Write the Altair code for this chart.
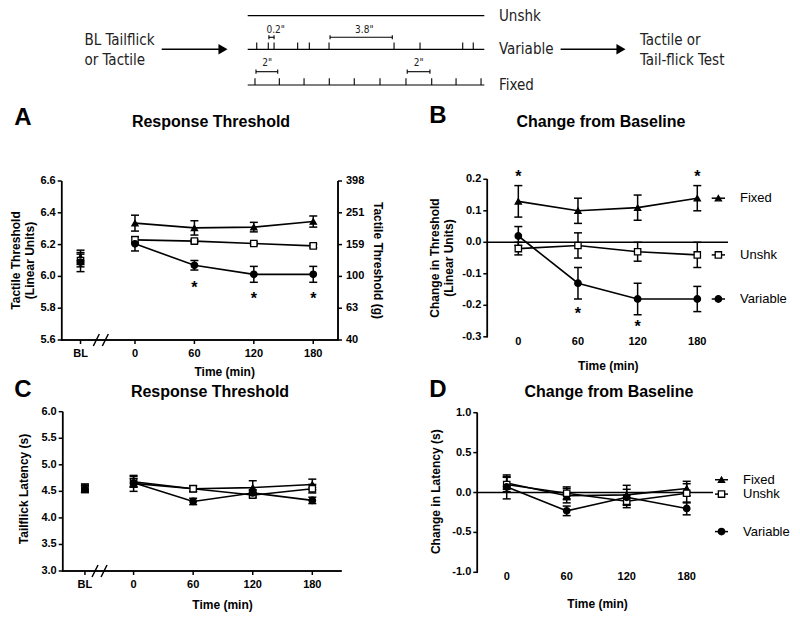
import altair as alt
import pandas as pd

# ---------------- data ----------------
SERIES = ["Fixed", "Unshk", "Variable"]
TIMES = [0, 60, 120, 180]

# Panel A : tactile threshold (linear units)
A_BL_X = -55
A_BL_MEAN = [6.12, 6.10, 6.09]
A_BL_ERR = [0.045, 0.04, 0.06]
A_FIXED = [6.335, 6.305, 6.31, 6.345]
A_FIXED_ERR = [0.05, 0.045, 0.03, 0.035]
A_UNSHK = [6.23, 6.222, 6.207, 6.192]
A_UNSHK_ERR = [0.02, 0.01, 0.01, 0.012]
A_VAR = [6.205, 6.07, 6.013, 6.013]
A_VAR_ERR = [0.045, 0.03, 0.05, 0.05]
A_STAR_T = [60, 120, 180]
A_STAR_Y = [5.95, 5.883, 5.883]
A_Y_TICKS = [5.6, 5.8, 6.0, 6.2, 6.4, 6.6]
A_RIGHT_LABELS = ["40", "63", "100", "159", "251", "398"]

# Panel B : change in threshold
B_FIXED = [0.13, 0.10, 0.11, 0.14]
B_FIXED_ERR = [0.05, 0.04, 0.04, 0.04]
B_UNSHK = [-0.02, -0.01, -0.03, -0.04]
B_UNSHK_ERR = [0.02, 0.04, 0.03, 0.04]
B_VAR = [0.02, -0.13, -0.18, -0.18]
B_VAR_ERR = [0.03, 0.05, 0.05, 0.04]
B_STAR_T = [0, 180, 60, 120]
B_STAR_Y = [0.22, 0.22, -0.215, -0.255]
B_LEGEND_Y = [0.14, -0.04, -0.18]
B_Y_TICKS = [-0.3, -0.2, -0.1, 0.0, 0.1, 0.2]

# Panel C : tailflick latency (s)
C_BL_X = -49
C_BL_MEAN = [4.56, 4.55, 4.54]
C_BL_ERR = [0.08, 0.07, 0.06]
C_FIXED = [4.65, 4.55, 4.57, 4.63]
C_FIXED_ERR = [0.15, 0.05, 0.13, 0.10]
C_UNSHK = [4.68, 4.55, 4.43, 4.55]
C_UNSHK_ERR = [0.10, 0.06, 0.05, 0.08]
C_VAR = [4.66, 4.31, 4.47, 4.33]
C_VAR_ERR = [0.08, 0.06, 0.06, 0.06]
C_Y_TICKS = [3.0, 3.5, 4.0, 4.5, 5.0, 5.5, 6.0]

# Panel D : change in latency (s)
D_FIXED = [0.12, -0.04, -0.03, 0.05]
D_FIXED_ERR = [0.08, 0.09, 0.12, 0.09]
D_UNSHK = [0.10, -0.01, -0.11, -0.01]
D_UNSHK_ERR = [0.09, 0.08, 0.08, 0.12]
D_VAR = [0.07, -0.23, -0.06, -0.20]
D_VAR_ERR = [0.15, 0.06, 0.10, 0.08]
D_LEGEND_Y = [0.16, -0.02, -0.49]
D_Y_TICKS = [-1.0, -0.5, 0.0, 0.5, 1.0]

# Schematic timeline (seconds along the session line)
DIAG_ROWS = ["Unshk", "Variable", "Fixed"]
DIAG_ROW_POS = [0.0, 0.97, 2.0]
DIAG_LINE_END = 18.85
VAR_TICKS = [0.72, 1.64, 2.10, 3.98, 4.91, 6.48, 11.66, 13.73, 17.13, 17.97]
FIX_TICKS = [0.58, 2.52, 4.49, 6.5, 8.49, 10.54, 12.61, 14.66, 16.6, 18.59]
BRACKET_ROW = [0.623, 0.623, 1.616, 1.616]
BRACKET_START = [1.69, 6.56, 0.66, 12.71]
BRACKET_END = [2.10, 11.52, 2.39, 14.52]
BRACKET_LABEL = ['0.2"', '3.8"', '2"', '2"']
BRACKET_LABEL_T = [2.23, 9.29, 1.56, 13.63]
BRACKET_LABEL_ROW = [0.413, 0.413, 1.365, 1.365]

# ---------------- layout ----------------
W, H = 784, 604
FONT = "Liberation Sans, Arial, sans-serif"
NARROW = "Liberation Sans Narrow, Arial Narrow, DejaVu Sans Condensed, sans-serif"

PAN = {
    "A": dict(xd=[-74, 205], xr=[53.7, 330.0], yd=[5.6, 6.6], yr=[332.0, 173.0]),
    "B": dict(xd=[-31.2, 212], xr=[479.3, 721.1], yd=[-0.3, 0.2], yr=[328.8, 171.3]),
    "C": dict(xd=[-71.4, 209.6], xr=[54.7, 333.7], yd=[3.0, 6.0], yr=[563.0, 403.7]),
    "D": dict(xd=[-29.4, 240], xr=[469.3, 738.7], yd=[-1.0, 1.0], yr=[564.3, 404.7]),
    "diag": dict(xd=[0, 18.85], xr=[239.7, 476.3], yd=[0, 2], yr=[7.7, 77.0]),
    "page": dict(xd=[0, 800], xr=[-8, 792], yd=[0, 620], yr=[-8, 612]),
}

# axis frame segments per panel: (x1, y1, x2, y2) in panel data units
FRAMES = {
    "A": [(-74, 5.6, -74, 6.6), (-74, 5.6, 205, 5.6), (205, 5.6, 205, 6.6)],
    "B": [(-31.2, -0.3, -31.2, 0.2)],
    "C": [(-71.4, 3.0, -71.4, 6.0), (-71.4, 3.0, 209.6, 3.0)],
    "D": [(-29.4, -1.0, -29.4, 1.0)],
}
FRAME_WIDTH_PX = 1.5


def xs(p):
    return alt.Scale(domain=PAN[p]["xd"], range=PAN[p]["xr"], nice=False, zero=False)


def ys(p):
    return alt.Scale(domain=PAN[p]["yd"], range=PAN[p]["yr"], nice=False, zero=False)


def X(p, f):
    return alt.X(f, type="quantitative", scale=xs(p), axis=None)


def Y(p, f):
    return alt.Y(f, type="quantitative", scale=ys(p), axis=None)


CAP = "M-1,0L1,0"
TICK_LEFT = "M-1,0L0,0"
TICK_RIGHT = "M0,0L1,0"
TICK_DOWN = "M0,0L0,1"
SLASH = "M-1.25,1L-0.25,-1M0.25,1L1.25,-1"
SHAPES = ["triangle-up", "square", "circle"]
FILLS = ["black", "white", "black"]
SIZES = [38, 42, 30]


def series_frame(bl_x, bl_mean, bl_err, means, errs):
    rows = []
    if bl_x is not None:
        for s, m, e in zip(SERIES, bl_mean, bl_err):
            rows.append(dict(series=s, t=bl_x, m=m, lo=m - e, hi=m + e, bl=1))
    for s, ms, es in zip(SERIES, means, errs):
        for t, m, e in zip(TIMES, ms, es):
            rows.append(dict(series=s, t=t, m=m, lo=m - e, hi=m + e, bl=0))
    return pd.DataFrame(rows)


def marker_enc():
    return dict(
        shape=alt.Shape("series:N", scale=alt.Scale(domain=SERIES, range=SHAPES), legend=None),
        fill=alt.Fill("series:N", scale=alt.Scale(domain=SERIES, range=FILLS), legend=None),
        size=alt.Size("series:N", scale=alt.Scale(domain=SERIES, range=SIZES), legend=None),
    )


def tick_marks(p, d, xf, yf, shape):
    return alt.Chart(d).mark_point(shape=shape, size=64, filled=False, color="black",
                                   strokeWidth=1.5, opacity=1).encode(
        x=X(p, xf), y=Y(p, yf))


def y_axis(p, values, labels=None, side="left"):
    xd = PAN[p]["xd"]
    at = xd[0] if side == "left" else xd[1]
    labs = labels if labels is not None else ["%.1f" % v for v in values]
    d = pd.DataFrame({"v": values, "lab": labs, "ax": [at] * len(values)})
    shape = TICK_LEFT if side == "left" else TICK_RIGHT
    return [
        tick_marks(p, d, "ax", "v", shape),
        alt.Chart(d).mark_text(font=FONT, fontSize=11, fontWeight="bold", color="black",
                               align="right" if side == "left" else "left",
                               baseline="middle", dx=-6 if side == "left" else 8).encode(
            x=X(p, "ax"), y=Y(p, "v"), text="lab:N"),
    ]


def x_axis(p, values, labels, ticks=True, dy=8):
    yd = PAN[p]["yd"]
    d = pd.DataFrame({"v": values, "lab": labels, "ay": [yd[0]] * len(values)})
    out = []
    if ticks:
        out.append(tick_marks(p, d, "v", "ay", TICK_DOWN))
    out.append(alt.Chart(d).mark_text(font=FONT, fontSize=11, fontWeight="bold",
                                      color="black", align="center", baseline="top",
                                      dy=dy).encode(
        x=X(p, "v"), y=Y(p, "ay"), text="lab:N"))
    return out


def frame_layers(p):
    # polyline version
    rows = []
    for i, (x1, y1, x2, y2) in enumerate(FRAMES[p]):
        rows.append(dict(seg=i, k=0, fx=x1, fy=y1))
        rows.append(dict(seg=i, k=1, fx=x2, fy=y2))
    d = pd.DataFrame(rows)
    out = [alt.Chart(d).mark_line(color="black", strokeWidth=1.5).encode(
        x=X(p, "fx"), y=Y(p, "fy"), detail="seg:N", order="k:Q")]
    # thin filled bars along the same segments
    P = PAN[p]
    hx = FRAME_WIDTH_PX / 2 / abs((P["xr"][1] - P["xr"][0]) / (P["xd"][1] - P["xd"][0]))
    hy = FRAME_WIDTH_PX / 2 / abs((P["yr"][1] - P["yr"][0]) / (P["yd"][1] - P["yd"][0]))
    bars = []
    for (x1, y1, x2, y2) in FRAMES[p]:
        if x1 == x2:
            bars.append(dict(bx1=x1 - hx, bx2=x1 + hx, by1=min(y1, y2) - hy, by2=max(y1, y2)))
        else:
            bars.append(dict(bx1=min(x1, x2) - hx, bx2=max(x1, x2), by1=y1 - hy, by2=y1 + hy))
    bd = pd.DataFrame(bars)
    out.append(alt.Chart(bd).mark_rect(color="black", opacity=1).encode(
        x=X(p, "bx1"), x2="bx2", y=Y(p, "by1"), y2="by2"))
    return out


def panel_layers(p, df):
    caps = pd.concat([
        pd.DataFrame({"t": df["t"], "v": df["lo"]}),
        pd.DataFrame({"t": df["t"], "v": df["hi"]}),
    ])
    return [
        alt.Chart(df[df["bl"] == 0]).mark_line(color="black", strokeWidth=1.6).encode(
            x=X(p, "t"), y=Y(p, "m"), detail="series:N"),
        alt.Chart(df).mark_rule(color="black", strokeWidth=1.5).encode(
            x=X(p, "t"), y=Y(p, "lo"), y2="hi"),
        alt.Chart(caps).mark_point(shape=CAP, size=64, filled=False, color="black",
                                   strokeWidth=1.5, opacity=1).encode(
            x=X(p, "t"), y=Y(p, "v")),
        alt.Chart(df).mark_point(filled=True, stroke="black", strokeWidth=1.3,
                                 opacity=1).encode(
            x=X(p, "t"), y=Y(p, "m"), **marker_enc()),
    ]


def stars(p, ts, vs):
    d = pd.DataFrame({"t": ts, "v": vs, "s": ["*"] * len(ts)})
    return alt.Chart(d).mark_text(font=FONT, fontSize=16, fontWeight="bold",
                                  baseline="middle", dy=4, color="black").encode(
        x=X(p, "t"), y=Y(p, "v"), text="s:N")


def legend_layers(p, ly, x1, x2, xm, xt):
    d = pd.DataFrame({"series": SERIES, "y": ly, "x1": [x1] * 3, "x2": [x2] * 3,
                      "xm": [xm] * 3, "xt": [xt] * 3})
    return [
        alt.Chart(d).mark_rule(color="black", strokeWidth=1.5).encode(
            x=X(p, "x1"), x2="x2", y=Y(p, "y")),
        alt.Chart(d).mark_point(filled=True, stroke="black", strokeWidth=1.3, opacity=1).encode(
            x=X(p, "xm"), y=Y(p, "y"), **marker_enc()),
        alt.Chart(d).mark_text(font=FONT, fontSize=13, align="left", baseline="middle",
                               color="black").encode(
            x=X(p, "xt"), y=Y(p, "y"), text="series:N"),
    ]


def zero_line(p, x1, x2):
    d = pd.DataFrame({"x1": [x1], "x2": [x2], "v": [0.0]})
    return alt.Chart(d).mark_rule(color="black", strokeWidth=1.5).encode(
        x=X(p, "x1"), x2="x2", y=Y(p, "v"))


def axis_break(p, t, v):
    d = pd.DataFrame({"t": [t], "v": [v]})
    return alt.Chart(d).mark_point(shape=SLASH, size=144, filled=False, color="black",
                                   strokeWidth=1.5, opacity=1).encode(
        x=X(p, "t"), y=Y(p, "v"))


layers = []

# ---------- Panel A ----------
dfA = series_frame(A_BL_X, A_BL_MEAN, A_BL_ERR, [A_FIXED, A_UNSHK, A_VAR],
                   [A_FIXED_ERR, A_UNSHK_ERR, A_VAR_ERR])
layers += frame_layers("A")
layers += panel_layers("A", dfA)
layers += y_axis("A", A_Y_TICKS)
layers += y_axis("A", A_Y_TICKS, A_RIGHT_LABELS, side="right")
layers += x_axis("A", [A_BL_X] + TIMES, ["BL"] + [str(t) for t in TIMES], dy=8)
layers.append(stars("A", A_STAR_T, A_STAR_Y))
layers.append(axis_break("A", -34.5, 5.6))

# ---------- Panel B ----------
dfB = series_frame(None, None, None, [B_FIXED, B_UNSHK, B_VAR],
                   [B_FIXED_ERR, B_UNSHK_ERR, B_VAR_ERR])
layers += frame_layers("B")
layers.append(zero_line("B", -31.2, 210.9))
layers += panel_layers("B", dfB)
layers += y_axis("B", B_Y_TICKS)
layers += x_axis("B", TIMES, [str(t) for t in TIMES], ticks=False, dy=-1)
layers.append(stars("B", B_STAR_T, B_STAR_Y))
layers += legend_layers("B", B_LEGEND_Y, 194.5, 207.9, 201.2, 223.0)

# ---------- Panel C ----------
dfC = series_frame(C_BL_X, C_BL_MEAN, C_BL_ERR, [C_FIXED, C_UNSHK, C_VAR],
                   [C_FIXED_ERR, C_UNSHK_ERR, C_VAR_ERR])
layers += frame_layers("C")
layers += panel_layers("C", dfC)
layers += y_axis("C", C_Y_TICKS)
layers += x_axis("C", [C_BL_X] + TIMES, ["BL"] + [str(t) for t in TIMES], dy=8)
layers.append(axis_break("C", -34.3, 3.0))

# ---------- Panel D ----------
dfD = series_frame(None, None, None, [D_FIXED, D_UNSHK, D_VAR],
                   [D_FIXED_ERR, D_UNSHK_ERR, D_VAR_ERR])
layers += frame_layers("D")
layers.append(zero_line("D", -29.4, 206.3))
layers += panel_layers("D", dfD)
layers += y_axis("D", D_Y_TICKS)
layers += x_axis("D", TIMES, [str(t) for t in TIMES], ticks=False, dy=-1)
layers += legend_layers("D", D_LEGEND_Y, 208.3, 221.3, 214.8, 236.3)

# ---------- schematic ----------
dl = pd.DataFrame({"name": DIAG_ROWS, "row": DIAG_ROW_POS,
                   "x1": [0.0] * 3, "x2": [DIAG_LINE_END] * 3,
                   "xl": [20.02] * 3})
layers.append(alt.Chart(dl).mark_rule(color="black", strokeWidth=1.2).encode(
    x=X("diag", "x1"), x2="x2", y=Y("diag", "row")))
layers.append(alt.Chart(dl).mark_text(font=NARROW, fontSize=15, align="left",
                                      baseline="middle", color="#222").encode(
    x=X("diag", "xl"), y=Y("diag", "row"), text="name:N"))

tk = pd.DataFrame({"t": VAR_TICKS + FIX_TICKS,
                   "r1": [DIAG_ROW_POS[1]] * len(VAR_TICKS) + [DIAG_ROW_POS[2]] * len(FIX_TICKS)})
tk["r2"] = tk["r1"] - 0.193
layers.append(alt.Chart(tk).mark_rule(color="black", strokeWidth=1.1).encode(
    x=X("diag", "t"), y=Y("diag", "r1"), y2="r2"))

br = pd.DataFrame({"row": BRACKET_ROW, "x1": BRACKET_START, "x2": BRACKET_END,
                   "lab": BRACKET_LABEL, "lt": BRACKET_LABEL_T, "lr": BRACKET_LABEL_ROW})
layers.append(alt.Chart(br).mark_rule(color="black", strokeWidth=1.1).encode(
    x=X("diag", "x1"), x2="x2", y=Y("diag", "row")))
brc = pd.DataFrame({"t": BRACKET_START + BRACKET_END, "row": BRACKET_ROW * 2})
brc["r1"] = brc["row"] - 0.06
brc["r2"] = brc["row"] + 0.06
layers.append(alt.Chart(brc).mark_rule(color="black", strokeWidth=1.1).encode(
    x=X("diag", "t"), y=Y("diag", "r1"), y2="r2"))
layers.append(alt.Chart(br).mark_text(font=NARROW, fontSize=10, align="center",
                                      baseline="middle", color="#222").encode(
    x=X("diag", "lt"), y=Y("diag", "lr"), text="lab:N"))

side = pd.DataFrame({"t": [-13.0, -13.0, 31.25, 31.25],
                     "row": [0.701, 1.279, 0.701, 1.279],
                     "txt": ["BL Tailflick", "or Tactile", "Tactile or", "Tail-flick Test"]})
layers.append(alt.Chart(side).mark_text(font=NARROW, fontSize=15, align="left",
                                        baseline="middle", color="#222").encode(
    x=X("diag", "t"), y=Y("diag", "row"), text="txt:N"))

arr = pd.DataFrame({"x1": [-6.85, 24.93], "x2": [-1.9, 29.8], "head": [-1.97, 29.74],
                    "row": [DIAG_ROW_POS[1]] * 2})
layers.append(alt.Chart(arr).mark_rule(color="black", strokeWidth=1.4).encode(
    x=X("diag", "x1"), x2="x2", y=Y("diag", "row")))
layers.append(alt.Chart(arr).mark_point(shape="triangle-right", size=110, filled=True,
                                        color="black", opacity=1).encode(
    x=X("diag", "head"), y=Y("diag", "row")))

# ---------- panel letters, titles and axis titles (page layout) ----------
letters = pd.DataFrame({"x": [23, 438, 23, 438], "y": [118, 116, 390, 390],
                        "txt": ["A", "B", "C", "D"]})
layers.append(alt.Chart(letters).mark_text(font=FONT, fontSize=24, fontWeight="bold",
                                           align="center", baseline="middle",
                                           color="black").encode(
    x=X("page", "x"), y=Y("page", "y"), text="txt:N"))
titles = pd.DataFrame({"x": [211, 601, 210, 609], "y": [121.7, 121.7, 391.7, 391.7],
                       "txt": ["Response Threshold", "Change from Baseline",
                               "Response Threshold", "Change from Baseline"]})
layers.append(alt.Chart(titles).mark_text(font=FONT, fontSize=16, fontWeight="bold",
                                          align="center", baseline="middle",
                                          color="black").encode(
    x=X("page", "x"), y=Y("page", "y"), text="txt:N"))
xtitles = pd.DataFrame({"x": [224.7, 608.3, 222.5, 597.5], "y": [371.7, 366, 605, 604],
                        "txt": ["Time (min)"] * 4})
layers.append(alt.Chart(xtitles).mark_text(font=FONT, fontSize=12, fontWeight="bold",
                                           align="center", baseline="middle",
                                           color="black").encode(
    x=X("page", "x"), y=Y("page", "y"), text="txt:N"))
ytitles = pd.DataFrame({"x": [15.5, 435, 24.2, 435.8], "y": [260.5, 258, 489, 491.7],
                        "txt": ["Tactile Threshold\n(Linear Units)",
                                "Change in Threshold\n(Linear Units)",
                                "Tailflick Latency (s)", "Change in Latency (s)"]})
layers.append(alt.Chart(ytitles).mark_text(font=FONT, fontSize=12, fontWeight="bold",
                                           align="center", baseline="middle", angle=270,
                                           lineBreak="\n", color="black").encode(
    x=X("page", "x"), y=Y("page", "y"), text="txt:N"))
rtitle = pd.DataFrame({"x": [378], "y": [260.5], "txt": ["Tactile Threshold (g)"]})
layers.append(alt.Chart(rtitle).mark_text(font=FONT, fontSize=12, fontWeight="bold",
                                          align="center", baseline="middle", angle=90,
                                          color="black").encode(
    x=X("page", "x"), y=Y("page", "y"), text="txt:N"))

chart = alt.layer(*layers).resolve_scale(
    x="independent", y="independent"
).properties(
    width=W, height=H, autosize=alt.AutoSizeParams(type="none"), padding=0,
    background="white"
).configure_view(stroke=None)

chart.save("out.html", embed_options={"renderer": "svg", "actions": False})
